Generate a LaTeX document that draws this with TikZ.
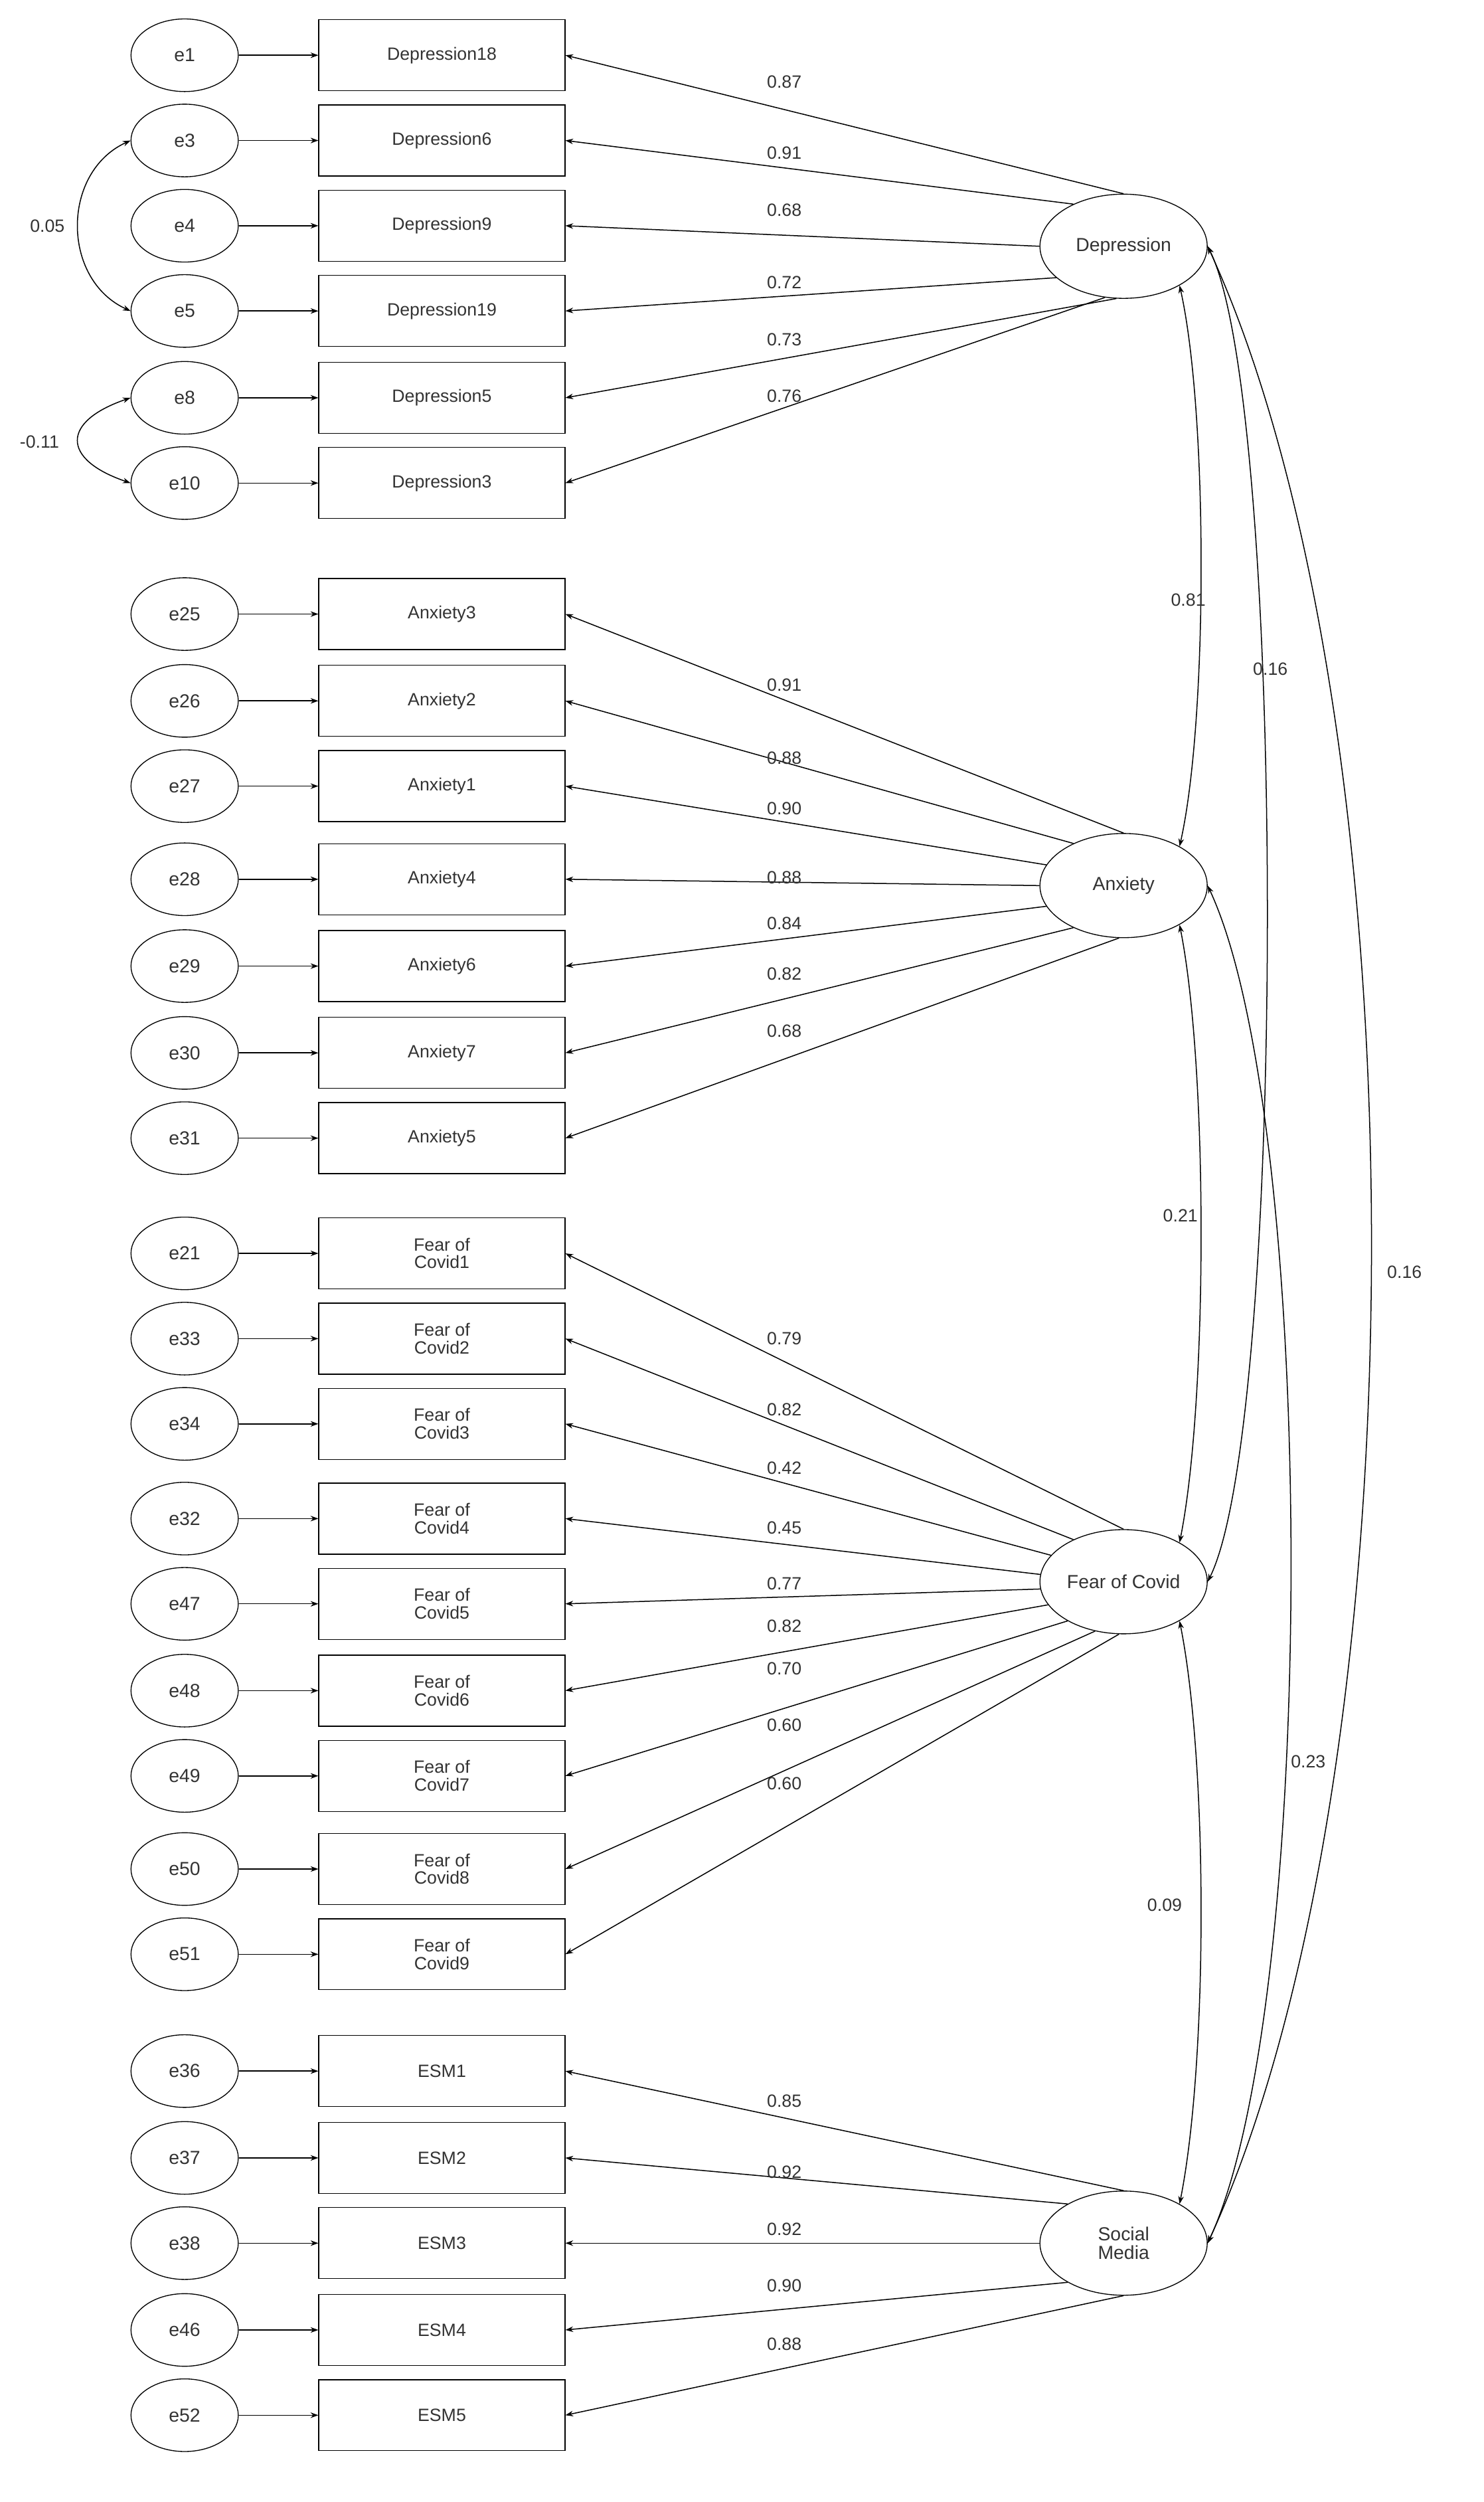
\documentclass[tikz,border=0pt]{standalone}
\usepackage{fontspec}
\setmainfont{Liberation Sans}
\usetikzlibrary{arrows.meta,shapes.geometric}
\begin{document}
\begin{tikzpicture}[x=1mm,y=-1mm,
  every node/.style={font=\fontsize{34}{38}\selectfont, text=black!80},
  err/.style={draw, ellipse, minimum width=68mm, minimum height=46mm, inner sep=0pt, line width=1.6pt},
  obs/.style={draw, rectangle, minimum width=156mm, minimum height=45mm, align=center, inner sep=0pt, line width=1.6pt, font=\fontsize{32}{36}\selectfont},
  lat/.style={draw, ellipse, minimum width=106mm, minimum height=66mm, inner sep=0pt, align=center, line width=1.6pt},
  arr/.style={-{Stealth[length=14pt,width=10pt]}, line width=1.8pt},
  cov/.style={{Stealth[length=14pt,width=10pt]}-{Stealth[length=14pt,width=10pt]}, line width=1.8pt},
  lab/.style={font=\fontsize{32}{36}\selectfont}]
\useasboundingbox (0,0) rectangle (940,1585);
\node[lat] (dep) at (712,156) {Depression};
\node[lat] (anx) at (712,561) {Anxiety};
\node[lat] (fear) at (712,1002) {Fear of Covid};
\node[lat] (sm) at (712,1421) {Social\\[-4pt]Media};
\foreach \e/\t/\y/\l/\ly/\L/\a in {
 e1/Depression18/35/0.87/52/dep/90, e3/Depression6/89/0.91/97/dep/140, e4/Depression9/143/0.68/133/dep/180,
 e5/Depression19/197/0.72/179/dep/205, e8/Depression5/252/0.73/215/dep/262, e10/Depression3/306/0.76/251/dep/250,
 e25/Anxiety3/389/0.91/434/anx/90, e26/Anxiety2/444/0.88/480/anx/140, e27/Anxiety1/498/0.90/512/anx/165,
 e28/Anxiety4/557/0.88/556/anx/180, e29/Anxiety6/612/0.84/585/anx/195, e30/Anxiety7/667/0.82/617/anx/220,
 e31/Anxiety5/721/0.68/653/anx/265,
 e21/{Fear of\\[-4pt]Covid1}/794/0.79/848/fear/90, e33/{Fear of\\[-4pt]Covid2}/848/0.82/893/fear/140,
 e34/{Fear of\\[-4pt]Covid3}/902/0.42/930/fear/160, e32/{Fear of\\[-4pt]Covid4}/962/0.45/968/fear/175,
 e47/{Fear of\\[-4pt]Covid5}/1016/0.77/1003/fear/185, e48/{Fear of\\[-4pt]Covid6}/1071/0.82/1030/fear/197,
 e49/{Fear of\\[-4pt]Covid7}/1125/0.70/1057/fear/215, e50/{Fear of\\[-4pt]Covid8}/1184/0.60/1093/fear/240,
 e51/{Fear of\\[-4pt]Covid9}/1238/0.60/1130/fear/265,
 e36/ESM1/1312/0.85/1331/sm/90, e37/ESM2/1367/0.92/1376/sm/145, e38/ESM3/1421/0.92/1412/sm/180,
 e46/ESM4/1476/0.90/1448/sm/215, e52/ESM5/1530/0.88/1485/sm/270}{
  \node[err] (\e) at (117,\y) {\e};
  \node[obs] (b\e) at (280,\y) {\t};
  \draw[arr] (\e) -- (b\e);
  \draw[arr] (\L.\a) -- (b\e.east);
  \node[lab] (l\e) at (497,\ly) {\l};
}
\draw[cov] (e3.west) .. controls +(-44,20) and +(-44,-20) .. (e5.west);
\node[lab] (c1) at (30,143) {0.05};
\draw[cov] (e8.west) .. controls +(-44,15) and +(-44,-15) .. (e10.west);
\node[lab] (c2) at (25,280) {-0.11};
\draw[cov] (dep.-35) .. controls +(18,80) and +(18,-80) .. (anx.35);
\node[lab] (c3) at (753,380) {0.81};
\draw[cov] (anx.-35) .. controls +(18,90) and +(18,-90) .. (fear.35);
\node[lab] (c4) at (748,770) {0.21};
\draw[cov] (fear.-35) .. controls +(18,90) and +(18,-90) .. (sm.35);
\node[lab] (c5) at (738,1207) {0.09};
\draw[cov] (dep.east) .. controls +(50,100) and +(50,-100) .. (fear.east);
\node[lab] (c6) at (805,424) {0.16};
\draw[cov] (anx.east) .. controls +(70,150) and +(70,-150) .. (sm.east);
\node[lab] (c7) at (829,1116) {0.23};
\draw[cov] (dep.east) .. controls +(138,300) and +(138,-300) .. (sm.east);
\node[lab] (c8) at (890,806) {0.16};
\end{tikzpicture}
\end{document}
